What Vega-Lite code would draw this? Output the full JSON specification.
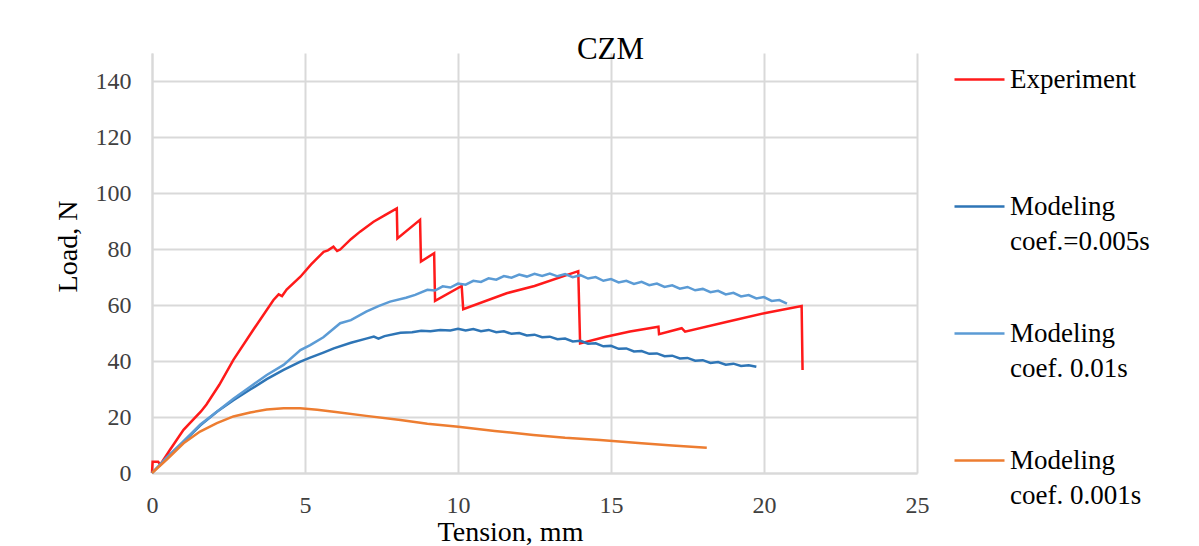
{
 "$schema": "https://vega.github.io/schema/vega-lite/v6.json",
 "width": 765,
 "height": 420,
 "autosize": {"type": "none"},
 "padding": {"left": 152, "top": 53, "right": 282, "bottom": 73},
 "background": "white",
 "title": {"text": "CZM", "font": "Liberation Serif", "fontSize": 31, "fontWeight": "normal", "color": "black", "anchor": "middle", "frame": "group", "dx": 76, "offset": -13},
 "data": {"values": [
  {"series": "Experiment", "x": 0, "y": 0},
  {"series": "Experiment", "x": 0.02, "y": 4.0},
  {"series": "Experiment", "x": 0.2, "y": 4.0},
  {"series": "Experiment", "x": 0.27, "y": 3.0},
  {"series": "Experiment", "x": 0.6, "y": 8.5},
  {"series": "Experiment", "x": 1.03, "y": 15.4},
  {"series": "Experiment", "x": 1.6, "y": 22.0},
  {"series": "Experiment", "x": 1.78, "y": 24.5},
  {"series": "Experiment", "x": 2.2, "y": 31.5},
  {"series": "Experiment", "x": 2.66, "y": 40.4},
  {"series": "Experiment", "x": 3.3, "y": 51.0},
  {"series": "Experiment", "x": 3.97, "y": 61.8},
  {"series": "Experiment", "x": 4.14, "y": 63.8},
  {"series": "Experiment", "x": 4.25, "y": 63.2},
  {"series": "Experiment", "x": 4.4, "y": 65.5},
  {"series": "Experiment", "x": 4.85, "y": 70.1},
  {"series": "Experiment", "x": 5.2, "y": 74.5},
  {"series": "Experiment", "x": 5.61, "y": 79.0},
  {"series": "Experiment", "x": 5.75, "y": 79.5},
  {"series": "Experiment", "x": 5.93, "y": 80.8},
  {"series": "Experiment", "x": 6.05, "y": 79.3},
  {"series": "Experiment", "x": 6.15, "y": 79.8},
  {"series": "Experiment", "x": 6.5, "y": 83.5},
  {"series": "Experiment", "x": 6.8, "y": 86.2},
  {"series": "Experiment", "x": 7.24, "y": 89.75},
  {"series": "Experiment", "x": 7.6, "y": 92.0},
  {"series": "Experiment", "x": 8.0, "y": 94.5},
  {"series": "Experiment", "x": 8.02, "y": 83.8},
  {"series": "Experiment", "x": 8.76, "y": 90.4},
  {"series": "Experiment", "x": 8.79, "y": 75.5},
  {"series": "Experiment", "x": 9.22, "y": 78.5},
  {"series": "Experiment", "x": 9.25, "y": 61.5},
  {"series": "Experiment", "x": 10.12, "y": 66.8},
  {"series": "Experiment", "x": 10.17, "y": 58.5},
  {"series": "Experiment", "x": 11.59, "y": 64.2},
  {"series": "Experiment", "x": 12.5, "y": 66.8},
  {"series": "Experiment", "x": 13.93, "y": 72.1},
  {"series": "Experiment", "x": 13.99, "y": 46.3},
  {"series": "Experiment", "x": 14.8, "y": 48.6},
  {"series": "Experiment", "x": 15.62, "y": 50.5},
  {"series": "Experiment", "x": 16.55, "y": 52.25},
  {"series": "Experiment", "x": 16.57, "y": 49.6},
  {"series": "Experiment", "x": 17.31, "y": 51.7},
  {"series": "Experiment", "x": 17.42, "y": 50.5},
  {"series": "Experiment", "x": 18.8, "y": 54.0},
  {"series": "Experiment", "x": 20.09, "y": 57.25},
  {"series": "Experiment", "x": 21.23, "y": 59.6},
  {"series": "Experiment", "x": 21.26, "y": 36.8},

  {"series": "Modeling coef.=0.005s", "x": 0, "y": 0},
  {"series": "Modeling coef.=0.005s", "x": 0.5, "y": 5.6},
  {"series": "Modeling coef.=0.005s", "x": 1.0, "y": 10.8},
  {"series": "Modeling coef.=0.005s", "x": 1.58, "y": 17.0},
  {"series": "Modeling coef.=0.005s", "x": 2.12, "y": 21.9},
  {"series": "Modeling coef.=0.005s", "x": 2.66, "y": 26.0},
  {"series": "Modeling coef.=0.005s", "x": 3.21, "y": 29.8},
  {"series": "Modeling coef.=0.005s", "x": 3.75, "y": 33.5},
  {"series": "Modeling coef.=0.005s", "x": 4.3, "y": 36.8},
  {"series": "Modeling coef.=0.005s", "x": 4.85, "y": 39.8},
  {"series": "Modeling coef.=0.005s", "x": 5.17, "y": 41.2},
  {"series": "Modeling coef.=0.005s", "x": 5.6, "y": 43.0},
  {"series": "Modeling coef.=0.005s", "x": 5.94, "y": 44.5},
  {"series": "Modeling coef.=0.005s", "x": 6.5, "y": 46.5},
  {"series": "Modeling coef.=0.005s", "x": 7.0, "y": 48.0},
  {"series": "Modeling coef.=0.005s", "x": 7.25, "y": 48.7},
  {"series": "Modeling coef.=0.005s", "x": 7.4, "y": 48.0},
  {"series": "Modeling coef.=0.005s", "x": 7.6, "y": 48.9},
  {"series": "Modeling coef.=0.005s", "x": 8.12, "y": 50.1},
  {"series": "Modeling coef.=0.005s", "x": 8.5, "y": 50.3},
  {"series": "Modeling coef.=0.005s", "x": 8.8, "y": 50.8},
  {"series": "Modeling coef.=0.005s", "x": 9.1, "y": 50.6},
  {"series": "Modeling coef.=0.005s", "x": 9.42, "y": 51.1},
  {"series": "Modeling coef.=0.005s", "x": 9.75, "y": 50.9},
  {"series": "Modeling coef.=0.005s", "x": 10.0, "y": 51.5},
  {"series": "Modeling coef.=0.005s", "x": 10.25, "y": 50.9},
  {"series": "Modeling coef.=0.005s", "x": 10.5, "y": 51.4},
  {"series": "Modeling coef.=0.005s", "x": 10.75, "y": 50.65},
  {"series": "Modeling coef.=0.005s", "x": 11.0, "y": 51.1},
  {"series": "Modeling coef.=0.005s", "x": 11.25, "y": 50.3},
  {"series": "Modeling coef.=0.005s", "x": 11.5, "y": 50.6},
  {"series": "Modeling coef.=0.005s", "x": 11.75, "y": 49.7},
  {"series": "Modeling coef.=0.005s", "x": 12.0, "y": 50.0},
  {"series": "Modeling coef.=0.005s", "x": 12.25, "y": 49.1},
  {"series": "Modeling coef.=0.005s", "x": 12.5, "y": 49.4},
  {"series": "Modeling coef.=0.005s", "x": 12.75, "y": 48.5},
  {"series": "Modeling coef.=0.005s", "x": 13.0, "y": 48.7},
  {"series": "Modeling coef.=0.005s", "x": 13.25, "y": 47.8},
  {"series": "Modeling coef.=0.005s", "x": 13.5, "y": 48.0},
  {"series": "Modeling coef.=0.005s", "x": 13.75, "y": 47.0},
  {"series": "Modeling coef.=0.005s", "x": 14.0, "y": 47.2},
  {"series": "Modeling coef.=0.005s", "x": 14.25, "y": 46.15},
  {"series": "Modeling coef.=0.005s", "x": 14.5, "y": 46.3},
  {"series": "Modeling coef.=0.005s", "x": 14.75, "y": 45.25},
  {"series": "Modeling coef.=0.005s", "x": 15.0, "y": 45.4},
  {"series": "Modeling coef.=0.005s", "x": 15.25, "y": 44.35},
  {"series": "Modeling coef.=0.005s", "x": 15.5, "y": 44.5},
  {"series": "Modeling coef.=0.005s", "x": 15.75, "y": 43.4},
  {"series": "Modeling coef.=0.005s", "x": 16.0, "y": 43.55},
  {"series": "Modeling coef.=0.005s", "x": 16.25, "y": 42.55},
  {"series": "Modeling coef.=0.005s", "x": 16.5, "y": 42.7},
  {"series": "Modeling coef.=0.005s", "x": 16.75, "y": 41.7},
  {"series": "Modeling coef.=0.005s", "x": 17.0, "y": 41.9},
  {"series": "Modeling coef.=0.005s", "x": 17.25, "y": 40.9},
  {"series": "Modeling coef.=0.005s", "x": 17.5, "y": 41.1},
  {"series": "Modeling coef.=0.005s", "x": 17.75, "y": 40.1},
  {"series": "Modeling coef.=0.005s", "x": 18.0, "y": 40.3},
  {"series": "Modeling coef.=0.005s", "x": 18.25, "y": 39.3},
  {"series": "Modeling coef.=0.005s", "x": 18.5, "y": 39.6},
  {"series": "Modeling coef.=0.005s", "x": 18.75, "y": 38.7},
  {"series": "Modeling coef.=0.005s", "x": 19.0, "y": 39.05},
  {"series": "Modeling coef.=0.005s", "x": 19.25, "y": 38.2},
  {"series": "Modeling coef.=0.005s", "x": 19.5, "y": 38.5},
  {"series": "Modeling coef.=0.005s", "x": 19.75, "y": 37.96},

  {"series": "Modeling coef. 0.01s", "x": 0, "y": 0},
  {"series": "Modeling coef. 0.01s", "x": 0.5, "y": 5.8},
  {"series": "Modeling coef. 0.01s", "x": 1.0, "y": 11.0},
  {"series": "Modeling coef. 0.01s", "x": 1.58, "y": 17.3},
  {"series": "Modeling coef. 0.01s", "x": 2.12, "y": 21.9},
  {"series": "Modeling coef. 0.01s", "x": 2.66, "y": 26.5},
  {"series": "Modeling coef. 0.01s", "x": 3.21, "y": 30.8},
  {"series": "Modeling coef. 0.01s", "x": 3.75, "y": 35.0},
  {"series": "Modeling coef. 0.01s", "x": 4.3, "y": 38.6},
  {"series": "Modeling coef. 0.01s", "x": 4.85, "y": 43.9},
  {"series": "Modeling coef. 0.01s", "x": 5.17, "y": 45.7},
  {"series": "Modeling coef. 0.01s", "x": 5.6, "y": 48.5},
  {"series": "Modeling coef. 0.01s", "x": 6.15, "y": 53.5},
  {"series": "Modeling coef. 0.01s", "x": 6.5, "y": 54.6},
  {"series": "Modeling coef. 0.01s", "x": 7.0, "y": 57.6},
  {"series": "Modeling coef. 0.01s", "x": 7.4, "y": 59.6},
  {"series": "Modeling coef. 0.01s", "x": 7.78, "y": 61.2},
  {"series": "Modeling coef. 0.01s", "x": 8.3, "y": 62.6},
  {"series": "Modeling coef. 0.01s", "x": 8.6, "y": 63.6},
  {"series": "Modeling coef. 0.01s", "x": 9.0, "y": 65.45},
  {"series": "Modeling coef. 0.01s", "x": 9.25, "y": 65.15},
  {"series": "Modeling coef. 0.01s", "x": 9.5, "y": 66.65},
  {"series": "Modeling coef. 0.01s", "x": 9.75, "y": 66.25},
  {"series": "Modeling coef. 0.01s", "x": 10.0, "y": 67.65},
  {"series": "Modeling coef. 0.01s", "x": 10.25, "y": 67.25},
  {"series": "Modeling coef. 0.01s", "x": 10.5, "y": 68.65},
  {"series": "Modeling coef. 0.01s", "x": 10.75, "y": 68.25},
  {"series": "Modeling coef. 0.01s", "x": 11.0, "y": 69.55},
  {"series": "Modeling coef. 0.01s", "x": 11.25, "y": 69.05},
  {"series": "Modeling coef. 0.01s", "x": 11.5, "y": 70.35},
  {"series": "Modeling coef. 0.01s", "x": 11.75, "y": 69.75},
  {"series": "Modeling coef. 0.01s", "x": 12.0, "y": 70.85},
  {"series": "Modeling coef. 0.01s", "x": 12.25, "y": 70.15},
  {"series": "Modeling coef. 0.01s", "x": 12.5, "y": 71.15},
  {"series": "Modeling coef. 0.01s", "x": 12.75, "y": 70.35},
  {"series": "Modeling coef. 0.01s", "x": 13.0, "y": 71.25},
  {"series": "Modeling coef. 0.01s", "x": 13.25, "y": 70.25},
  {"series": "Modeling coef. 0.01s", "x": 13.5, "y": 71.05},
  {"series": "Modeling coef. 0.01s", "x": 13.75, "y": 69.95},
  {"series": "Modeling coef. 0.01s", "x": 14.0, "y": 70.65},
  {"series": "Modeling coef. 0.01s", "x": 14.25, "y": 69.45},
  {"series": "Modeling coef. 0.01s", "x": 14.5, "y": 69.95},
  {"series": "Modeling coef. 0.01s", "x": 14.75, "y": 68.65},
  {"series": "Modeling coef. 0.01s", "x": 15.0, "y": 69.25},
  {"series": "Modeling coef. 0.01s", "x": 15.25, "y": 68.05},
  {"series": "Modeling coef. 0.01s", "x": 15.5, "y": 68.65},
  {"series": "Modeling coef. 0.01s", "x": 15.75, "y": 67.55},
  {"series": "Modeling coef. 0.01s", "x": 16.0, "y": 68.25},
  {"series": "Modeling coef. 0.01s", "x": 16.25, "y": 67.05},
  {"series": "Modeling coef. 0.01s", "x": 16.5, "y": 67.65},
  {"series": "Modeling coef. 0.01s", "x": 16.75, "y": 66.45},
  {"series": "Modeling coef. 0.01s", "x": 17.0, "y": 67.05},
  {"series": "Modeling coef. 0.01s", "x": 17.25, "y": 65.85},
  {"series": "Modeling coef. 0.01s", "x": 17.5, "y": 66.45},
  {"series": "Modeling coef. 0.01s", "x": 17.75, "y": 65.25},
  {"series": "Modeling coef. 0.01s", "x": 18.0, "y": 65.75},
  {"series": "Modeling coef. 0.01s", "x": 18.25, "y": 64.55},
  {"series": "Modeling coef. 0.01s", "x": 18.5, "y": 65.05},
  {"series": "Modeling coef. 0.01s", "x": 18.75, "y": 63.75},
  {"series": "Modeling coef. 0.01s", "x": 19.0, "y": 64.35},
  {"series": "Modeling coef. 0.01s", "x": 19.25, "y": 63.05},
  {"series": "Modeling coef. 0.01s", "x": 19.5, "y": 63.55},
  {"series": "Modeling coef. 0.01s", "x": 19.75, "y": 62.35},
  {"series": "Modeling coef. 0.01s", "x": 20.0, "y": 62.85},
  {"series": "Modeling coef. 0.01s", "x": 20.25, "y": 61.45},
  {"series": "Modeling coef. 0.01s", "x": 20.5, "y": 61.75},
  {"series": "Modeling coef. 0.01s", "x": 20.75, "y": 60.5},

  {"series": "Modeling coef. 0.001s", "x": 0, "y": 0},
  {"series": "Modeling coef. 0.001s", "x": 0.5, "y": 5.0},
  {"series": "Modeling coef. 0.001s", "x": 1.03, "y": 10.6},
  {"series": "Modeling coef. 0.001s", "x": 1.57, "y": 14.8},
  {"series": "Modeling coef. 0.001s", "x": 2.12, "y": 17.8},
  {"series": "Modeling coef. 0.001s", "x": 2.66, "y": 20.2},
  {"series": "Modeling coef. 0.001s", "x": 3.21, "y": 21.6},
  {"series": "Modeling coef. 0.001s", "x": 3.75, "y": 22.7},
  {"series": "Modeling coef. 0.001s", "x": 4.3, "y": 23.1},
  {"series": "Modeling coef. 0.001s", "x": 4.84, "y": 23.1},
  {"series": "Modeling coef. 0.001s", "x": 5.4, "y": 22.6},
  {"series": "Modeling coef. 0.001s", "x": 5.94, "y": 21.9},
  {"series": "Modeling coef. 0.001s", "x": 7.0, "y": 20.4},
  {"series": "Modeling coef. 0.001s", "x": 8.12, "y": 18.9},
  {"series": "Modeling coef. 0.001s", "x": 9.0, "y": 17.6},
  {"series": "Modeling coef. 0.001s", "x": 10.01, "y": 16.5},
  {"series": "Modeling coef. 0.001s", "x": 11.2, "y": 15.0},
  {"series": "Modeling coef. 0.001s", "x": 12.46, "y": 13.6},
  {"series": "Modeling coef. 0.001s", "x": 13.5, "y": 12.6},
  {"series": "Modeling coef. 0.001s", "x": 14.64, "y": 11.8},
  {"series": "Modeling coef. 0.001s", "x": 16.0, "y": 10.6},
  {"series": "Modeling coef. 0.001s", "x": 17.0, "y": 9.8},
  {"series": "Modeling coef. 0.001s", "x": 18.13, "y": 9.0}
 ]},
 "mark": {"type": "line", "strokeWidth": 2.5, "interpolate": "linear"},
 "encoding": {
  "x": {"field": "x", "type": "quantitative",
        "scale": {"domain": [0, 25], "nice": false, "zero": false},
        "axis": {"title": "Tension, mm", "values": [0, 5, 10, 15, 20, 25], "titleX": 358, "titleY": 45, "titleBaseline": "top", "titleAlign": "center"}},
  "y": {"field": "y", "type": "quantitative",
        "scale": {"domain": [0, 150], "nice": false},
        "axis": {"title": "Load, N", "values": [0, 20, 40, 60, 80, 100, 120, 140], "titleX": -84, "titleY": 193, "titleAngle": 270, "titleAlign": "center", "titleBaseline": "middle"}},
  "color": {"field": "series", "type": "nominal",
        "scale": {"domain": ["Experiment", "Modeling coef.=0.005s", "Modeling coef. 0.01s", "Modeling coef. 0.001s"],
                  "range": ["#FF1A1A", "#2E75B6", "#5B9BD5", "#ED7D31"]},
        "legend": {"title": null, "orient": "right", "offset": 36, "padding": 0,
                   "symbolType": "stroke", "symbolSize": 2500, "symbolStrokeWidth": 2.5,
                   "labelFont": "Liberation Serif", "labelFontSize": 27, "labelColor": "black", "labelLimit": 400,
                   "labelOffset": 4, "rowPadding": 52,
                   "labelExpr": "datum.label == 'Experiment' ? ['Experiment', ''] : ['Modeling', (indexof(datum.label, '0.001') >= 0 ? '\u2002' : '') + slice(datum.label, 9)]",
                   "encode": {"labels": {"update": {"lineHeight": {"value": 35}}}}}}
 },
 "config": {
  "view": {"stroke": null},
  "axis": {"gridColor": "#D9D9D9", "gridWidth": 2, "domainColor": "#D9D9D9", "domainWidth": 2, "ticks": false,
           "labelFont": "Liberation Serif", "labelFontSize": 24, "labelColor": "#404040",
           "titleFont": "Liberation Serif", "titleFontSize": 28, "titleFontWeight": "normal", "titleColor": "black"},
  "axisX": {"labelPadding": 20, "labelFlush": false},
  "axisY": {"labelPadding": 21}
 }
}
